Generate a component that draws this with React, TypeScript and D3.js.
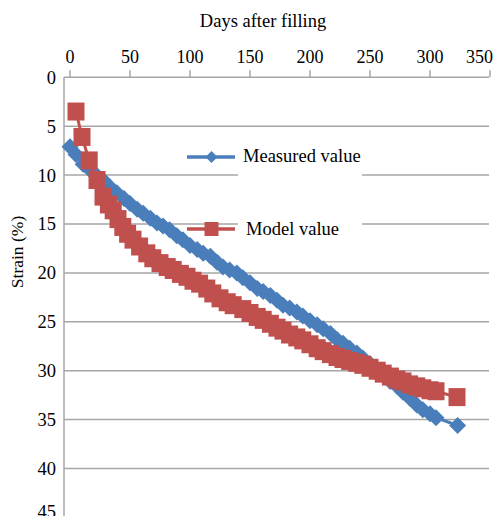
import React from "react";
import * as d3 from "d3";

const xTicks = [0, 50, 100, 150, 200, 250, 300, 350];
const yTicks = [0, 5, 10, 15, 20, 25, 30, 35, 40, 45];

const measuredDays = [0, 5, 11, 17, 22, 27.5, 33, 39, 45, 50, 56, 61, 67, 72.5, 77.5, 83, 89, 94, 100, 106, 111, 117, 122.5, 127.5, 133, 139, 144, 150, 156, 161, 167, 172.5, 177.5, 183, 189, 194, 200, 206, 211, 217, 222.5, 227.5, 233, 239, 244, 250, 256, 261, 267, 272.5, 277.5, 283, 289, 294, 300, 305, 323];
const measuredStrain = [7.1, 7.9, 8.9, 9.5, 10.0, 10.5, 11.2, 11.8, 12.4, 12.9, 13.5, 13.9, 14.4, 14.9, 15.2, 15.6, 16.2, 16.6, 17.2, 17.6, 18.0, 18.3, 18.9, 19.4, 19.7, 20.0, 20.5, 21.0, 21.6, 21.9, 22.3, 22.8, 23.3, 23.6, 24.0, 24.4, 24.9, 25.3, 25.7, 26.2, 26.8, 27.2, 27.7, 28.2, 28.7, 29.3, 30.0, 30.5, 31.1, 31.6, 32.2, 32.8, 33.5, 34.0, 34.4, 34.8, 35.6];

const modelDays = [5, 10, 16, 22.5, 27.5, 32, 36, 40, 44, 48, 52.5, 58, 64, 69, 75, 81, 86, 92, 97.5, 102.5, 108, 114, 119, 125, 131, 136, 144, 150, 156, 161, 167, 172.5, 177.5, 183, 189, 194, 200, 206, 211, 217, 222.5, 227.5, 233, 239, 244, 250, 256, 261, 267, 272.5, 277.5, 283, 289, 294, 300, 305, 322.5];
const modelStrain = [3.5, 6.1, 8.5, 10.5, 12.2, 13.0, 13.6, 14.5, 15.3, 16.0, 16.6, 17.3, 18.0, 18.5, 19.0, 19.4, 19.7, 20.1, 20.4, 20.8, 21.1, 21.6, 22.1, 22.6, 23.0, 23.3, 23.7, 24.1, 24.5, 24.8, 25.2, 25.6, 25.9, 26.3, 26.6, 26.9, 27.3, 27.7, 28.0, 28.3, 28.6, 28.8, 29.0, 29.2, 29.4, 29.7, 30.0, 30.3, 30.6, 30.9, 31.1, 31.4, 31.6, 31.8, 32.0, 32.1, 32.7];

const seriesNames = ["Measured value", "Model value"];

const BLUE = "#4a7ebb";
const RED = "#c0504d";
const GRID = "#a6a6a6";
const FONT = '"Liberation Serif", "Times New Roman", serif';

export default function App() {
  const W = 496;
  const H = 516;
  const x = d3.scaleLinear().domain([0, 350]).range([70, 490]);
  const y = d3.scaleLinear().domain([0, 45]).range([77.3, 517.4]);
  const plotLeft = 64;
  const plotRight = 489;

  const measured = measuredDays.map((d, i) => [d, measuredStrain[i]] as [number, number]);
  const model = modelDays.map((d, i) => [d, modelStrain[i]] as [number, number]);
  const line = d3.line<[number, number]>().x((p) => x(p[0])).y((p) => y(p[1]));

  const diamond = (cx: number, cy: number, r: number) =>
    `M${cx},${cy - r}L${cx + r},${cy}L${cx},${cy + r}L${cx - r},${cy}Z`;

  const txt = (size: number) => ({ fontFamily: FONT, fontSize: size, fill: "#000" });

  return (
    <div style={{ position: "absolute", left: 0, top: 0 }}>
      <svg width={W} height={H} style={{ display: "block", background: "#fff" }}>
        {yTicks.slice(1).map((t) => (
          <line key={t} x1={plotLeft} x2={plotRight} y1={y(t)} y2={y(t)} stroke={GRID} strokeWidth={1.5} />
        ))}
        <line x1={plotLeft} x2={plotRight} y1={y(0)} y2={y(0)} stroke={GRID} strokeWidth={1.5} />
        <line x1={plotLeft} x2={plotLeft} y1={y(0)} y2={H} stroke={GRID} strokeWidth={1.5} />
        {xTicks.map((t) => (
          <line key={t} x1={x(t)} x2={x(t)} y1={y(0)} y2={y(0) - 7} stroke={GRID} strokeWidth={1.5} />
        ))}
        {xTicks.map((t, i) => (
          <text
            key={t}
            x={i === xTicks.length - 1 ? x(t) + 3 : x(t)}
            y={63}
            textAnchor={i === xTicks.length - 1 ? "end" : "middle"}
            style={txt(18)}
          >
            {t}
          </text>
        ))}
        {yTicks.map((t, i) => (
          <text
            key={t}
            x={56}
            y={i === yTicks.length - 1 ? y(t) - 6 : y(t)}
            dy="0.35em"
            textAnchor="end"
            style={txt(18.5)}
          >
            {t}
          </text>
        ))}
        <text x={263} y={27} textAnchor="middle" style={txt(18.5)}>
          Days after filling
        </text>
        <text transform={`translate(23,252) rotate(-90)`} textAnchor="middle" style={txt(17.5)}>
          Strain (%)
        </text>

        <path d={line(measured) || ""} fill="none" stroke={BLUE} strokeWidth={3} />
        {measured.map((p, i) => (
          <path key={i} d={diamond(x(p[0]), y(p[1]), 8.5)} fill={BLUE} />
        ))}
        <path d={line(model) || ""} fill="none" stroke={RED} strokeWidth={3} />
        {model.map((p, i) => (
          <rect key={i} x={x(p[0]) - 8.5} y={y(p[1]) - 9} width={17} height={18} fill={RED} />
        ))}

        <rect x={238} y={140} width={124} height={105} fill="#fff" />
        <line x1={187} x2={235} y1={157} y2={157} stroke={BLUE} strokeWidth={3.5} />
        <path d={diamond(211.5, 157, 6)} fill={BLUE} />
        <text x={243} y={162} style={txt(18.5)}>
          {seriesNames[0]}
        </text>
        <line x1={187} x2={235} y1={229} y2={229} stroke={RED} strokeWidth={3.5} />
        <rect x={204.5} y={222} width={14} height={14} fill={RED} />
        <text x={246} y={235} style={txt(18.5)}>
          {seriesNames[1]}
        </text>
      </svg>
    </div>
  );
}
